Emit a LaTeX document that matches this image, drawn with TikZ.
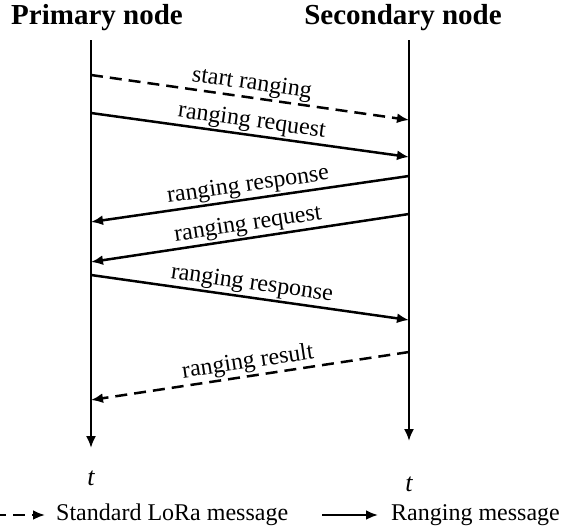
\documentclass[tikz,border=0pt]{standalone}
\usepackage{fontspec}
\setmainfont{Liberation Serif}
\usetikzlibrary{arrows.meta,positioning}
\tikzset{
	x=1pt,
	y=-1pt,
	>={Latex[length=12pt,width=10pt]}
}
\begin{document}
\begin{tikzpicture}
  \tikzset{
    life/.style={line width=2pt, ->},
    msg/.style={line width=2.5pt, ->},
    std/.style={msg, dash pattern=on 12pt off 7pt},
    lbl/.style={font=\fontsize{24}{28}\selectfont, midway, sloped, above, inner sep=1.5pt},
    head/.style={font=\fontsize{29}{32}\selectfont\bfseries},
    leg/.style={font=\fontsize{24}{28}\selectfont, anchor=west, inner sep=0pt}
  }
  \useasboundingbox (0,0) rectangle (570,530);

  \node[head] (prim) at (97,18) {Primary node};
  \node[head] (sec) at (403,18) {Secondary node};

  \coordinate (ptop) at (91,40);
  \coordinate (pbot) at (91,448);
  \coordinate (stop) at (409,40);
  \coordinate (sbot) at (409,441);
  \draw[life] (ptop) -- (pbot);
  \draw[life] (stop) -- (sbot);

  \node[font=\fontsize{26}{28}\selectfont\itshape] (tp) at (91,478) {t};
  \node[font=\fontsize{26}{28}\selectfont\itshape] (ts) at (409,484) {t};

  \coordinate (p1) at (91,75);   \coordinate (s1) at (409,120);
  \coordinate (p2) at (91,113);  \coordinate (s2) at (409,157);
  \coordinate (s3) at (409,176); \coordinate (p3) at (91,222);
  \coordinate (s4) at (409,214); \coordinate (p4) at (91,262);
  \coordinate (p5) at (91,275);  \coordinate (s5) at (409,320);
  \coordinate (s6) at (409,352); \coordinate (p6) at (91,400);

  \draw[std] (p1) -- node[lbl] {start ranging} (s1);
  \draw[msg] (p2) -- node[lbl] {ranging request} (s2);
  \draw[msg] (s3) -- node[lbl] {ranging response} (p3);
  \draw[msg] (s4) -- node[lbl] {ranging request} (p4);
  \draw[msg] (p5) -- node[lbl] {ranging response} (s5);
  \draw[std] (s6) -- node[lbl] {ranging result} (p6);

  % legend
  \coordinate (la) at (-6,515);
  \coordinate (lb) at (45,515);
  \coordinate (lc) at (322,515);
  \coordinate (ld) at (378,515);
  \draw[std] (la) -- (lb);
  \node[leg] (lstd) at (56,515) {Standard LoRa message};
  \draw[msg] (lc) -- (ld);
  \node[leg] (lrng) at (391,515) {Ranging message};
\end{tikzpicture}
\end{document}
